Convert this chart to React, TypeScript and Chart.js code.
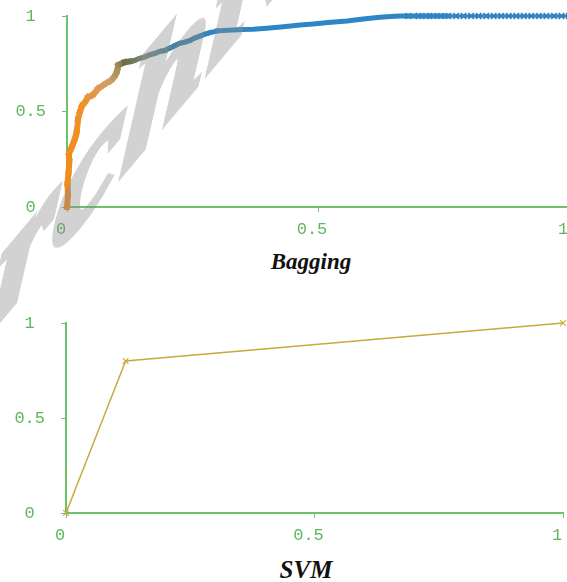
import React, { useEffect, useRef } from "react";
import { Chart, registerables } from "chart.js";

Chart.register(...registerables);

// ---------------- data ----------------
const bagFpr = [
  0, 0.002, 0.001, 0.003, 0.005, 0.004, 0.009, 0.012, 0.016, 0.019, 0.021, 0.022, 0.026, 0.03, 0.036,
  0.042, 0.05, 0.056, 0.062, 0.068, 0.078, 0.086, 0.092, 0.097, 0.1, 0.102, 0.108, 0.115, 0.124, 0.133,
  0.145, 0.155, 0.165, 0.175, 0.185, 0.195, 0.205, 0.215, 0.225, 0.235, 0.245, 0.255, 0.265, 0.275,
  0.285, 0.3, 0.32, 0.35, 0.371, 0.398, 0.431, 0.464, 0.49, 0.52, 0.558, 0.59, 0.623, 0.645, 0.663,
  0.68, 0.7, 0.715, 0.73, 0.745, 0.76, 0.775, 0.79, 0.805, 0.82, 0.835, 0.85, 0.865, 0.88, 0.895,
  0.91, 0.925, 0.94, 0.955, 0.97, 0.985, 1.0,
];
const bagTpr = [
  0, 0.06, 0.12, 0.18, 0.24, 0.28, 0.31, 0.33, 0.36, 0.39, 0.43, 0.46, 0.5, 0.53, 0.55,
  0.575, 0.585, 0.6, 0.62, 0.63, 0.648, 0.66, 0.675, 0.695, 0.715, 0.742, 0.75, 0.758, 0.762, 0.766,
  0.778, 0.786, 0.797, 0.805, 0.814, 0.82, 0.832, 0.845, 0.857, 0.863, 0.872, 0.885, 0.895, 0.905,
  0.913, 0.922, 0.926, 0.929, 0.931, 0.936, 0.944, 0.953, 0.958, 0.966, 0.974, 0.984, 0.993, 0.997, 1.0,
  1.0, 1.0, 1.0, 1.0, 1.0, 1.0, 1.0, 1.0, 1.0, 1.0, 1.0, 1.0, 1.0, 1.0, 1.0,
  1.0, 1.0, 1.0, 1.0, 1.0, 1.0, 1.0,
];
const svmFpr = [0, 0.12, 1];
const svmTpr = [0, 0.8, 1];
const axisTicks = [0, 0.5, 1];
const axisTickLabels = ["0", "0.5", "1"];
const chartTitles = ["Bagging", "SVM"];
const watermarkText = "Archive of SID";

// ---------------- styles ----------------
const GREEN_TEXT = "#5cb85c";
const GREEN_AXIS = "#6cc36c";
const TICK_FONT = { family: "'Liberation Mono', 'DejaVu Sans Mono', monospace", size: 17 };
const SVM_COLOR = "#c9aa3c";
const MARKER_FROM = 0.67;

type RGB = [number, number, number];
const bagColorStops: [number, RGB][] = [
  [0, [240, 140, 30]],
  [0.035, [240, 145, 40]],
  [0.06, [225, 152, 80]],
  [0.09, [205, 160, 105]],
  [0.105, [160, 140, 90]],
  [0.12, [110, 110, 70]],
  [0.16, [120, 140, 130]],
  [0.22, [60, 130, 165]],
  [0.3, [47, 134, 198]],
  [1.01, [47, 134, 198]],
];

function bagColorAt(x: number): string {
  for (let i = 0; i < bagColorStops.length - 1; i++) {
    const [x0, c0] = bagColorStops[i];
    const [x1, c1] = bagColorStops[i + 1];
    if (x <= x1) {
      const t = Math.max(0, Math.min(1, (x - x0) / (x1 - x0)));
      const c = c0.map((v, k) => Math.round(v + (c1[k] - v) * t));
      return `rgb(${c[0]},${c[1]},${c[2]})`;
    }
  }
  return "rgb(47,134,198)";
}

function makeScales(yWidth: number, xHeight: number): any {
  const grid = {
    display: true,
    drawOnChartArea: false,
    drawTicks: true,
    tickLength: 5,
    color: GREEN_AXIS,
    lineWidth: 1,
  };
  const border = { display: true, color: GREEN_AXIS, width: 2 };
  const setTicks = (s: any) => {
    s.ticks = axisTicks.map((v) => ({ value: v }));
  };
  const label = (v: any) => {
    const i = axisTicks.indexOf(Number(v));
    return i >= 0 ? axisTickLabels[i] : "";
  };
  const zeroPad = (s: any) => {
    s.paddingLeft = 0;
    s.paddingRight = 0;
    s.paddingTop = 0;
    s.paddingBottom = 0;
  };
  return {
    x: {
      type: "linear",
      min: 0,
      max: 1,
      grid,
      border,
      afterBuildTicks: setTicks,
      afterFit: (s: any) => {
        s.height = xHeight;
        zeroPad(s);
      },
      ticks: {
        callback: label,
        color: GREEN_TEXT,
        font: TICK_FONT,
        padding: 7,
        labelOffset: -6,
        maxRotation: 0,
        autoSkip: false,
      },
    },
    y: {
      type: "linear",
      min: 0,
      max: 1,
      grid,
      border,
      afterBuildTicks: setTicks,
      afterFit: (s: any) => {
        s.width = yWidth;
        zeroPad(s);
      },
      ticks: {
        callback: label,
        color: GREEN_TEXT,
        font: TICK_FONT,
        padding: 16,
        crossAlign: "center",
        autoSkip: false,
      },
    },
  };
}

const commonOptions = (padRight: number, padTop: number, yWidth: number, xHeight: number): any => ({
  responsive: false,
  animation: false,
  layout: { padding: { left: 0, right: padRight, top: padTop, bottom: 0 } },
  plugins: { legend: { display: false }, tooltip: { enabled: false }, title: { display: false } },
  scales: makeScales(yWidth, xHeight),
});

export default function App() {
  const topRef = useRef<HTMLCanvasElement>(null);
  const bottomRef = useRef<HTMLCanvasElement>(null);

  useEffect(() => {
    const bagData = bagFpr.map((x, i) => ({ x, y: bagTpr[i] }));
    const svmData = svmFpr.map((x, i) => ({ x, y: svmTpr[i] }));

    const top = new Chart(topRef.current as HTMLCanvasElement, {
      type: "scatter",
      data: {
        datasets: [
          {
            data: bagData,
            showLine: true,
            clip: false,
            borderWidth: 5,
            borderColor: "rgb(47,134,198)",
            borderCapStyle: "square",
            borderJoinStyle: "miter",
            tension: 0,
            segment: {
              borderColor: (ctx: any) => bagColorAt((ctx.p0.parsed.x + ctx.p1.parsed.x) / 2),
              borderWidth: (ctx: any) => {
                const x = ctx.p0.parsed.x;
                if (x < 0.12) return 6;
                if (x < 0.75) return 5;
                return 3;
              },
            },
            pointStyle: "crossRot",
            pointRadius: (ctx: any) => (ctx.raw && ctx.raw.x >= MARKER_FROM ? 4 : 0),
            pointBorderColor: "rgb(47,134,198)",
            pointBackgroundColor: "rgb(47,134,198)",
            pointBorderWidth: 2,
          } as any,
        ],
      },
      options: commonOptions(31, 16, 67, 33),
    });

    const bottom = new Chart(bottomRef.current as HTMLCanvasElement, {
      type: "scatter",
      data: {
        datasets: [
          {
            data: svmData,
            showLine: true,
            clip: false,
            borderWidth: 1.5,
            borderColor: SVM_COLOR,
            tension: 0,
            pointStyle: "crossRot",
            pointRadius: 4,
            pointBorderColor: SVM_COLOR,
            pointBorderWidth: 1.2,
          } as any,
        ],
      },
      options: commonOptions(37, 23, 66, 33),
    });

    return () => {
      top.destroy();
      bottom.destroy();
    };
  }, []);

  const titleStyle = (cx: number, top: number, size: number): React.CSSProperties => ({
    position: "absolute",
    left: cx,
    top,
    transform: "translateX(-50%)",
    fontFamily: "'Liberation Serif', 'DejaVu Serif', serif",
    fontWeight: "bold",
    fontStyle: "italic",
    fontSize: size,
    lineHeight: `${size}px`,
    color: "#111",
    whiteSpace: "nowrap",
  });

  return (
    <div
      style={{
        position: "absolute",
        left: 0,
        top: 0,
        width: 567,
        height: 582,
        overflow: "hidden",
        background: "#ffffff",
      }}
    >
      <canvas
        ref={topRef}
        width={600}
        height={240}
        style={{ position: "absolute", left: 0, top: 0, width: 600, height: 240 }}
      />
      <canvas
        ref={bottomRef}
        width={600}
        height={246}
        style={{ position: "absolute", left: 0, top: 300, width: 600, height: 246 }}
      />
      <div style={titleStyle(311, 250, 23)}>{chartTitles[0]}</div>
      <div style={titleStyle(306, 557, 25)}>{chartTitles[1]}</div>
      <div
        style={{
          position: "absolute",
          left: -98,
          top: 325,
          transformOrigin: "0 0",
          transform: "matrix(1,-1.19,-0.1,1,0,0)",
          fontFamily: "'Liberation Serif', 'DejaVu Serif', serif",
          fontWeight: "bold",
          fontStyle: "italic",
          fontSize: 150,
          lineHeight: "150px",
          letterSpacing: "2px",
          color: "#888888",
          WebkitTextStroke: "8px #888888",
          opacity: 0.38,
          whiteSpace: "nowrap",
          pointerEvents: "none",
        }}
      >
        {watermarkText}
      </div>
    </div>
  );
}
